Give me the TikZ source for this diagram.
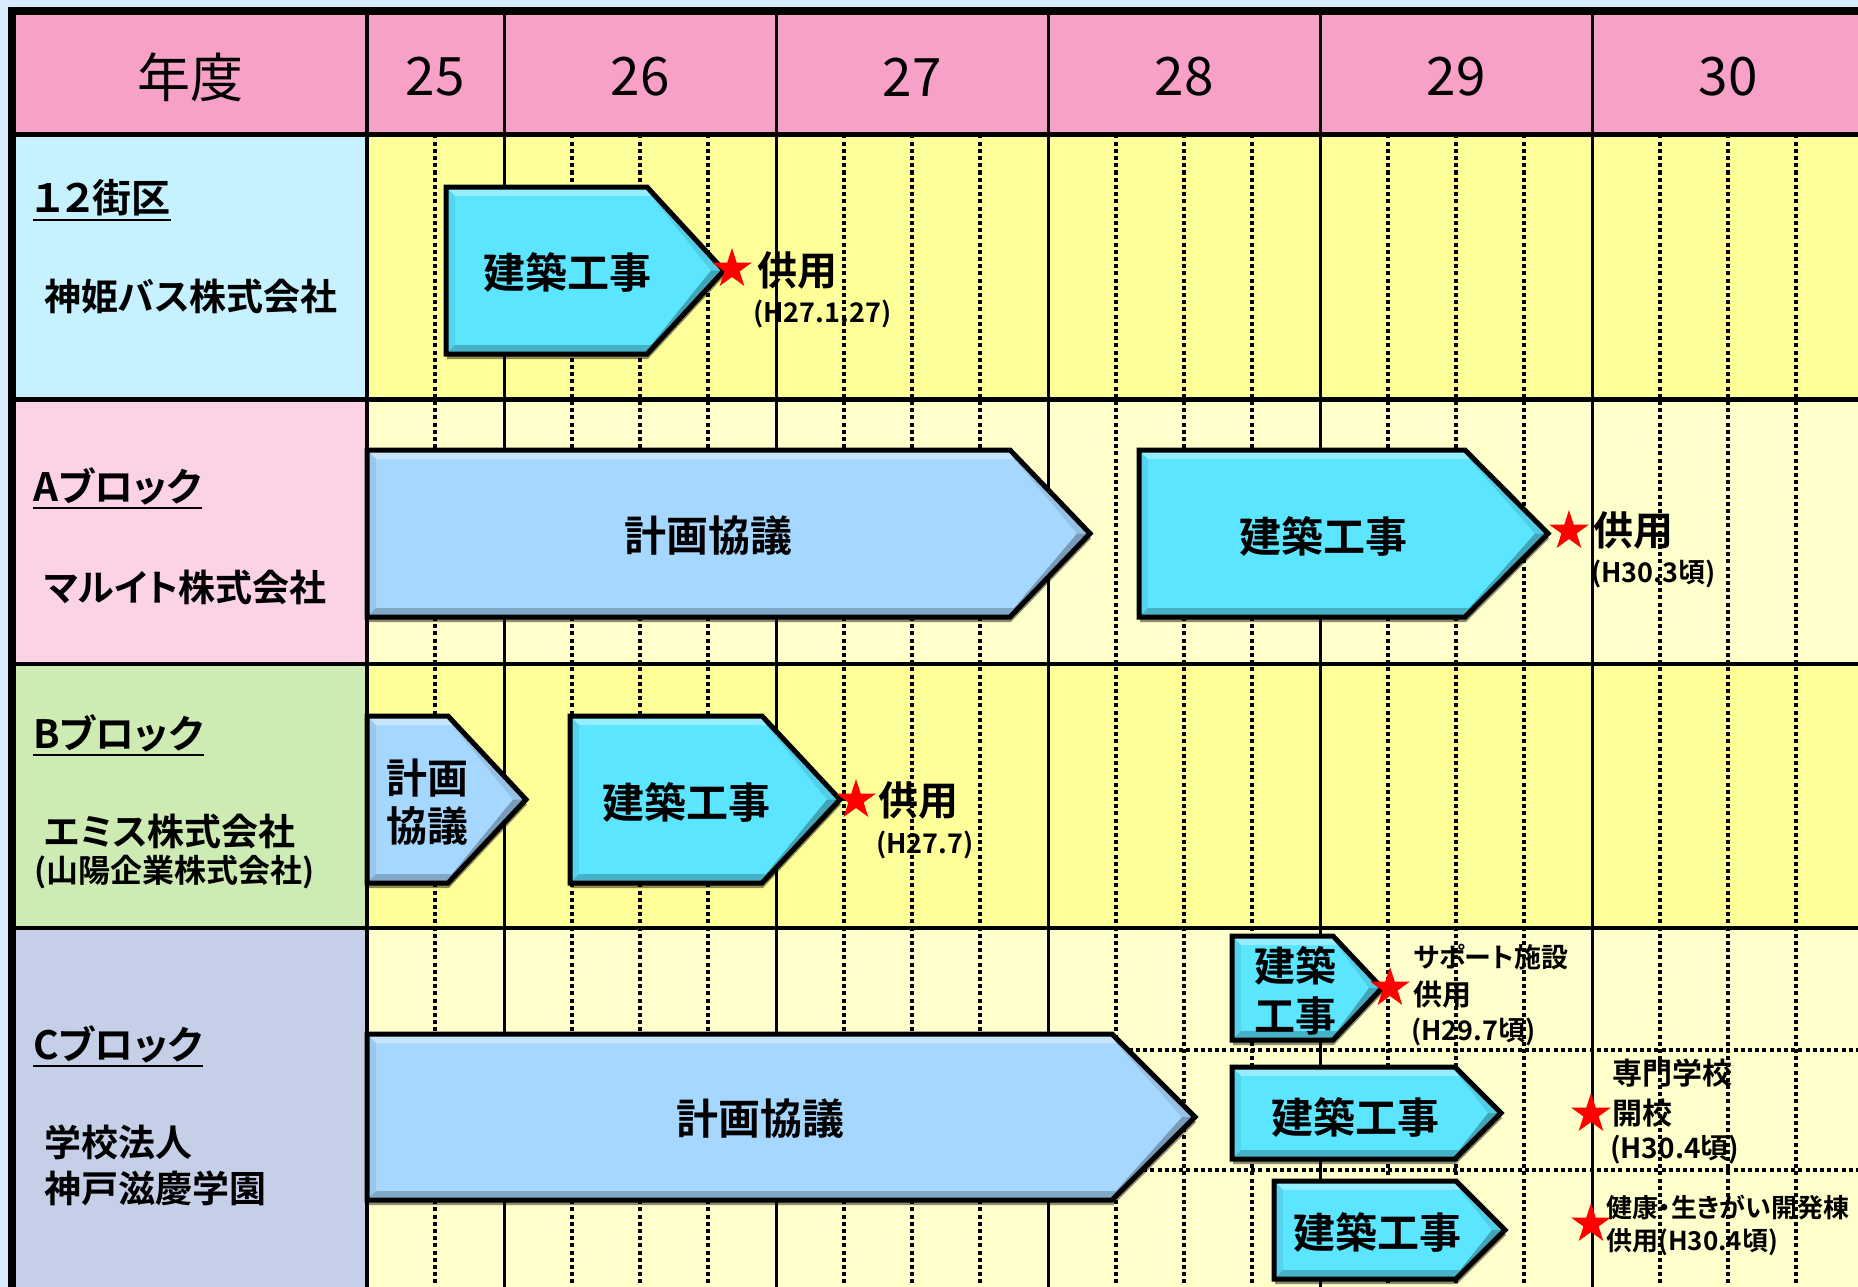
\documentclass[tikz,border=0pt]{standalone}
\usepackage{fontspec}
\setmainfont{Noto Sans CJK JP}[BoldFont={Noto Sans CJK JP Bold}, RawFeature={+palt}]
\usetikzlibrary{shapes.geometric}
\definecolor{bgblue}{HTML}{D7EBFF}
\definecolor{hdrpink}{HTML}{F7A1C8}
\definecolor{labA}{HTML}{C6F2FF}
\definecolor{labB}{HTML}{FBD2E6}
\definecolor{labC}{HTML}{CDEBB3}
\definecolor{labD}{HTML}{C6CFE8}
\definecolor{yel}{HTML}{FFFF99}
\definecolor{lyel}{HTML}{FFFFCC}
\definecolor{buildc}{HTML}{5BE5FF}
\definecolor{planc}{HTML}{A6D8FF}
% #1 L, #2 T, #3 B, #4 shoulder x, #5 tip x, #6 colour
\newcommand\garrow[6]{%
  \pgfmathsetmacro\gM{(#2+#3)/2}%
  \fill[black,opacity=.45] (#1+1,#2+5) -- (#4+1,#2+5) -- (#5+1,\gM+5) -- (#4+1,#3+5) -- (#1+1,#3+5) -- cycle;
  \fill[#6] (#1,#2) -- (#4,#2) -- (#5,\gM) -- (#4,#3) -- (#1,#3) -- cycle;
  \fill[white,opacity=.35] (#1,#2) -- (#4,#2) -- (#4+4,#2+9) -- (#1+9,#2+9) -- cycle;
  \fill[black,opacity=.07] (#1,#2) -- (#1+9,#2+9) -- (#1+9,#3-9) -- (#1,#3) -- cycle;
  \fill[black,opacity=.10] (#4,#2) -- (#5,\gM) -- (#5-13,\gM) -- (#4+4,#2+9) -- cycle;
  \fill[black,opacity=.28] (#5,\gM) -- (#4,#3) -- (#4+4,#3-9) -- (#5-13,\gM) -- cycle;
  \fill[black,opacity=.22] (#4,#3) -- (#1,#3) -- (#1+9,#3-9) -- (#4+4,#3-9) -- cycle;
  \draw[line width=5,line join=miter] (#1,#2) -- (#4,#2) -- (#5,\gM) -- (#4,#3) -- (#1,#3) -- cycle;
}
\begin{document}
\begin{tikzpicture}[x=1pt,y=-1pt,
  dotline/.style={line width=3.2,dash pattern=on 4 off 3.2},
  hdr/.style={inner sep=0,font=\fontsize{53}{56}\selectfont},
  lbl/.style={anchor=west,inner sep=0,font=\bfseries\fontsize{39}{42}\selectfont},
  sublbl/.style={anchor=west,inner sep=0,font=\bfseries\fontsize{37}{42}\selectfont},
  uline/.style={line width=2.5},
  atext/.style={inner sep=0,align=center,font=\bfseries\fontsize{42}{50}\selectfont},
  note/.style={anchor=west,inner sep=0,font=\bfseries\fontsize{27}{30}\selectfont},
  bignote/.style={anchor=west,inner sep=0,font=\bfseries\fontsize{40}{42}\selectfont},
  mstar/.style={star,star points=5,star point ratio=2.618,fill=red,draw=none,minimum size=42,inner sep=0}
]
\useasboundingbox (0,0) rectangle (1858,1287);
\clip (0,0) rectangle (1858,1287);
\fill[bgblue] (0,0) rectangle (1858,1287);
% header and cells
\fill[hdrpink] (12,11) rectangle (1870,134.5);
\fill[labA] (12,134.5) rectangle (367,399.5);
\fill[labB] (12,399.5) rectangle (367,664);
\fill[labC] (12,664) rectangle (367,928);
\fill[labD] (12,928) rectangle (367,1300);
\fill[yel] (367,134.5) rectangle (1870,399.5);
\fill[lyel] (367,399.5) rectangle (1870,664);
\fill[yel] (367,664) rectangle (1870,928);
\fill[lyel] (367,928) rectangle (1870,1300);
% quarter lines
\foreach \x in {435,572,640,708,844,912,980,1116,1184,1252,1388,1456,1524,1660,1728,1796}
  \draw[dotline] (\x,134.5) -- (\x,1300);
\draw[dotline] (1100,1050) -- (1870,1050);
\draw[dotline] (1100,1170) -- (1870,1170);
% year lines
\foreach \x in {504,776,1048,1320,1592}
  \draw[line width=3] (\x,11) -- (\x,1300);
\draw[line width=4] (367,11) -- (367,1300);
\draw[line width=5] (12,134.5) -- (1870,134.5);
\foreach \y in {399.5,664,928}
  \draw[line width=4.5] (12,\y) -- (1870,\y);
\draw[line width=8] (12,1300) -- (12,11) -- (1870,11);
% header text
\node[hdr] (h0) at (190,77) {年度};
\node[hdr] (h25) at (435,77) {25};
\node[hdr] (h26) at (640,77) {26};
\node[hdr] (h27) at (912,77) {27};
\node[hdr] (h28) at (1184,77) {28};
\node[hdr] (h29) at (1456,77) {29};
\node[hdr] (h30) at (1728,77) {30};
% left labels
\node[lbl] (l1) at (33,198) {１２街区};
\draw[uline] ([yshift=-7pt]l1.base west) -- ([yshift=-7pt]l1.base east);
\node[sublbl] (l1s) at (44,296) {神姫バス株式会社};
\node[lbl] (l2) at (33,486) {Aブロック};
\draw[uline] ([yshift=-7pt]l2.base west) -- ([yshift=-7pt]l2.base east);
\node[sublbl] (l2s) at (44,587) {マルイト株式会社};
\node[lbl] (l3) at (33,733) {Bブロック};
\draw[uline] ([yshift=-7pt]l3.base west) -- ([yshift=-7pt]l3.base east);
\node[sublbl] (l3s) at (44,831) {エミス株式会社};
\node[anchor=west,inner sep=0,font=\bfseries\fontsize{32}{34}\selectfont] (l3t) at (34,872) {(山陽企業株式会社)};
\node[lbl] (l4) at (33,1044) {Cブロック};
\draw[uline] ([yshift=-7pt]l4.base west) -- ([yshift=-7pt]l4.base east);
\node[sublbl] (l4s) at (44,1142) {学校法人};
\node[sublbl] (l4t) at (44,1188) {神戸滋慶学園};
% arrows
\garrow{446}{187}{354}{647}{724}{buildc}
\garrow{367}{450}{617}{1010}{1090}{planc}
\garrow{1139}{450}{617}{1465}{1548}{buildc}
\garrow{367}{716}{883}{448}{526}{planc}
\garrow{570}{716}{883}{762}{840}{buildc}
\garrow{367}{1034}{1200}{1112}{1195}{planc}
\garrow{1232}{936}{1040}{1333}{1382}{buildc}
\garrow{1232}{1067}{1159}{1455}{1501}{buildc}
\garrow{1274}{1181}{1279}{1456}{1505}{buildc}
% arrow texts
\node[atext] (a1) at (567,272) {建築工事};
\node[atext] (a2) at (708,536) {計画協議};
\node[atext] (a3) at (1323,536) {建築工事};
\node[atext,font=\bfseries\fontsize{41}{48}\selectfont] (a4) at (427,802) {計画\\協議};
\node[atext] (a5) at (686,802) {建築工事};
\node[atext] (a6) at (760,1119) {計画協議};
\node[atext,font=\bfseries\fontsize{41}{50}\selectfont] (a7) at (1295,991) {建築\\工事};
\node[atext] (a8) at (1355,1117) {建築工事};
\node[atext] (a9) at (1377,1232) {建築工事};
% stars
\node[mstar] (s1) at (732,269) {};
\node[mstar] (s2) at (1569,531) {};
\node[mstar] (s3) at (856,800) {};
\node[mstar] (s4) at (1390,988) {};
\node[mstar] (s5) at (1591,1114) {};
\node[mstar] (s6) at (1591,1224) {};
% notes
\node[bignote] (n1a) at (757,270) {供用};
\node[note] (n1b) at (753,314) {(H27.1.27)};
\node[bignote] (n2a) at (1593,530) {供用};
\node[note] (n2b) at (1591,574) {(H30.3頃)};
\node[bignote] (n3a) at (878,800) {供用};
\node[note] (n3b) at (876,845) {(H27.7)};
\node[note] (n4a) at (1413,957) {サポート施設};
\node[note,font=\bfseries\fontsize{29}{32}\selectfont] (n4b) at (1413,995) {供用};
\node[note] (n4c) at (1411,1032) {(H29.7頃)};
\node[note,font=\bfseries\fontsize{30}{34}\selectfont] (n5a) at (1612,1073) {専門学校};
\node[note,font=\bfseries\fontsize{30}{34}\selectfont] (n5b) at (1612,1113) {開校};
\node[note,font=\bfseries\fontsize{28}{32}\selectfont] (n5c) at (1610,1150) {(H30.4頃)};
\node[note,font=\bfseries\fontsize{26}{30}\selectfont] (n6a) at (1606,1207) {健康・生きがい開発棟};
\node[note,font=\bfseries\fontsize{26}{30}\selectfont] (n6b) at (1606,1242) {供用(H30.4頃)};
\end{tikzpicture}
\end{document}
